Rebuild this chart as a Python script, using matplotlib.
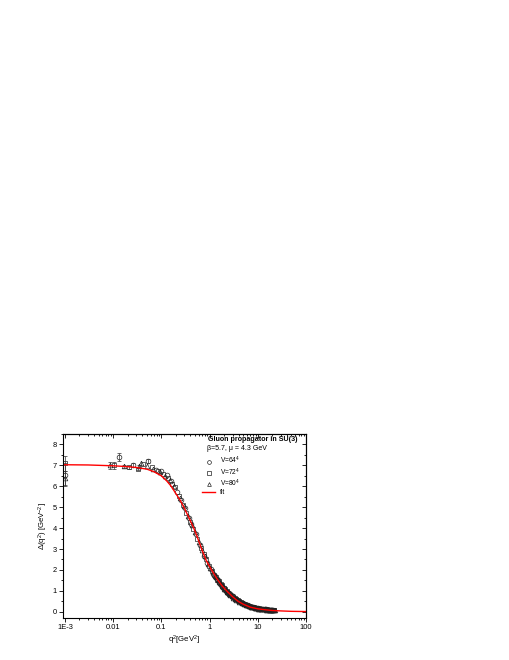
import numpy as np
import matplotlib
matplotlib.use('Agg')
import matplotlib.pyplot as plt
from matplotlib.ticker import LogLocator, MultipleLocator, NullFormatter

plt.rcParams['font.family'] = ['Liberation Sans', 'DejaVu Sans']
plt.rcParams['mathtext.fontset'] = 'custom'
plt.rcParams['mathtext.rm'] = 'Liberation Sans'
plt.rcParams['mathtext.it'] = 'Liberation Sans:italic'

# V=64^4 (circles)
q2_64 = [0.001, 0.013, 0.026, 0.052, 0.078, 0.1, 0.13, 0.16, 0.21, 0.26,
         0.31, 0.37, 0.42, 0.52, 0.63, 0.78, 0.9, 1.05, 1.2, 1.3,
         1.4, 1.5, 1.6, 1.75, 1.85, 2.0, 2.1, 2.2, 2.4, 2.5,
         2.6, 2.8, 3.0, 3.2, 3.4, 3.5, 3.7, 3.9, 4.0, 4.3,
         4.6, 4.9, 5.0, 5.3, 5.6, 5.8, 6.2, 6.4, 6.7, 7.0,
         7.2, 7.8, 8.0, 8.4, 8.8, 9.0, 9.6, 10, 10.5, 11,
         11.2, 12, 12.5, 13, 13.8, 14, 15, 16, 17, 17.5,
         18, 18.5, 19, 19.8, 20, 21]
d_64 = [6.55, 7.4, 7.0, 7.2, 6.8, 6.75, 6.55, 6.25, 5.75, 5.35,
        4.95, 4.5, 4.2, 3.7, 3.2, 2.65, 2.35, 2.05, 1.8, 1.7,
        1.58, 1.5, 1.4, 1.3, 1.22, 1.12, 1.06, 1.0, 0.92, 0.88,
        0.85, 0.78, 0.73, 0.67, 0.62, 0.6, 0.56, 0.53, 0.51, 0.47,
        0.43, 0.4, 0.39, 0.36, 0.34, 0.32, 0.3, 0.28, 0.27, 0.25,
        0.24, 0.22, 0.21, 0.2, 0.19, 0.185, 0.17, 0.165, 0.155, 0.15,
        0.145, 0.135, 0.13, 0.125, 0.12, 0.115, 0.11, 0.1, 0.095, 0.093,
        0.09, 0.088, 0.086, 0.083, 0.082, 0.08]
err_64 = [0.55, 0.2, 0.1, 0.1]

# V=72^4 (squares)
q2_72 = [0.001, 0.0105, 0.021, 0.032, 0.042, 0.063, 0.085, 0.11, 0.14, 0.17,
         0.19, 0.23, 0.28, 0.33, 0.4, 0.46, 0.55, 0.66, 0.75, 0.85,
         0.97, 1.1, 1.25, 1.35, 1.45, 1.55, 1.7, 1.8, 1.95, 2.05,
         2.25, 2.35, 2.45, 2.7, 2.9, 3.1, 3.3, 3.6, 3.8, 4.1,
         4.4, 4.7, 5.1, 5.4, 5.7, 6.0, 6.5, 6.9, 7.4, 7.9,
         8.5, 9.2, 9.8, 10.4, 11.5, 12.2, 13.2, 14.5, 15.5, 16.5,
         17.8, 18.8, 20.2, 21.3, 22]
d_72 = [7.1, 7.0, 6.9, 6.85, 7.05, 6.9, 6.75, 6.6, 6.4, 6.1,
        5.95, 5.55, 5.1, 4.7, 4.3, 3.95, 3.5, 3.05, 2.75, 2.5,
        2.2, 1.95, 1.75, 1.65, 1.54, 1.46, 1.33, 1.26, 1.15, 1.1,
        0.99, 0.95, 0.91, 0.82, 0.76, 0.7, 0.65, 0.59, 0.55, 0.5,
        0.46, 0.43, 0.39, 0.36, 0.34, 0.32, 0.29, 0.27, 0.25, 0.23,
        0.21, 0.19, 0.175, 0.165, 0.15, 0.14, 0.13, 0.12, 0.11, 0.105,
        0.1, 0.095, 0.09, 0.085, 0.082]
err_72 = [0.35, 0.15, 0.08, 0.08]

# V=80^4 (triangles)
q2_80 = [0.001, 0.0085, 0.017, 0.034, 0.038, 0.05, 0.068, 0.092, 0.12, 0.15,
         0.18, 0.24, 0.29, 0.35, 0.43, 0.5, 0.6, 0.7, 0.8, 0.92,
         1.0, 1.15, 1.28, 1.35, 1.48, 1.55, 1.65, 1.8, 1.9, 2.0,
         2.15, 2.3, 2.55, 2.7, 2.95, 3.1, 3.35, 3.6, 3.85, 4.1,
         4.5, 4.8, 5.2, 5.6, 6.0, 6.5, 7.1, 7.5, 8.2, 8.7,
         9.4, 10, 10.8, 11.6, 12.6, 13.5, 14.6, 15.5, 16.8, 17.5,
         18.4, 19.5, 20.6, 21.5, 22.5]
d_80 = [6.4, 7.0, 6.95, 6.95, 7.1, 6.95, 6.85, 6.7, 6.5, 6.3,
        6.0, 5.45, 5.05, 4.6, 4.15, 3.8, 3.35, 2.95, 2.65, 2.3,
        2.1, 1.88, 1.72, 1.64, 1.5, 1.44, 1.36, 1.23, 1.18, 1.1,
        1.03, 0.95, 0.86, 0.8, 0.74, 0.68, 0.63, 0.57, 0.54, 0.48,
        0.45, 0.4, 0.37, 0.33, 0.31, 0.27, 0.25, 0.22, 0.21, 0.18,
        0.17, 0.15, 0.145, 0.13, 0.125, 0.11, 0.105, 0.1, 0.095, 0.09,
        0.088, 0.08, 0.08, 0.075, 0.075]
err_80 = [0.35, 0.15, 0.08, 0.08]

# fit curve
fit_q2 = [0.00091, 0.001, 0.003, 0.01, 0.02, 0.03, 0.05, 0.07, 0.1, 0.13, 0.16, 0.2,
          0.25, 0.3, 0.4, 0.47, 0.55, 0.685, 0.85, 1.1, 1.4, 1.8, 2.26, 3.0, 3.9,
          5, 7, 10, 15, 20, 30, 50, 100]
fit_d = [7.03, 7.03, 7.02, 6.98, 6.94, 6.9, 6.82, 6.7, 6.5, 6.25, 6.0, 5.65,
         5.3, 4.95, 4.35, 4.0, 3.6, 3.0, 2.45, 2.0, 1.6, 1.25, 1.0, 0.72, 0.5,
         0.36, 0.22, 0.14, 0.09, 0.06, 0.04, 0.02, 0.01]

fig = plt.figure(figsize=(5.1, 6.6), dpi=100)
ax = fig.add_axes([0.1235, 0.0636, 0.4765, 0.2788])

mk = dict(ls='none', mfc='none', mec='#222222', mew=0.5, ms=3.4)
ax.plot(q2_64, d_64, marker='o', label='V=64$^4$', **mk)
ax.plot(q2_72, d_72, marker='s', label='V=72$^4$', **mk)
ax.plot(q2_80, d_80, marker='^', label='V=80$^4$', **mk)
for q, d, e in [(q2_64, d_64, err_64), (q2_72, d_72, err_72), (q2_80, d_80, err_80)]:
    ax.errorbar(q[:len(e)], d[:len(e)], yerr=e, fmt='none', ecolor='#333333',
                elinewidth=0.5, capsize=1.5, capthick=0.5)
ax.plot(fit_q2, fit_d, color='red', lw=1.0, label='fit')

ax.set_xscale('log')
ax.set_xlim(0.00091, 100)
ax.set_ylim(-0.3, 8.5)
ax.set_xticks([0.001, 0.01, 0.1, 1, 10, 100])
ax.set_xticklabels(['1E-3', '0.01', '0.1', '1', '10', '100'])
ax.xaxis.set_minor_locator(LogLocator(base=10, subs=np.arange(2, 10), numticks=20))
ax.xaxis.set_minor_formatter(NullFormatter())
ax.yaxis.set_major_locator(MultipleLocator(1))
ax.yaxis.set_minor_locator(MultipleLocator(0.5))

for sp in ax.spines.values():
    sp.set_linewidth(0.8)
ax.tick_params(which='both', labelsize=5.4, width=0.6, pad=1.5)
ax.tick_params(which='major', length=3)
ax.tick_params(which='minor', length=1.6)

# Origin style: outward ticks on left/bottom, inward ticks on top/right
tx = ax.secondary_xaxis('top')
tx.set_xticks([0.001, 0.01, 0.1, 1, 10, 100])
tx.xaxis.set_minor_locator(LogLocator(base=10, subs=np.arange(2, 10), numticks=20))
tx.tick_params(which='both', direction='in', labeltop=False, width=0.6)
tx.tick_params(which='major', length=3)
tx.tick_params(which='minor', length=1.6)
ty = ax.secondary_yaxis('right')
ty.yaxis.set_major_locator(MultipleLocator(1))
ty.yaxis.set_minor_locator(MultipleLocator(0.5))
ty.tick_params(which='both', direction='in', labelright=False, width=0.6)
ty.tick_params(which='major', length=3)
ty.tick_params(which='minor', length=1.6)

ax.set_xlabel('q$^2$[GeV$^2$]', fontsize=5.6, labelpad=2)
ax.set_ylabel(r'$\Delta$(q$^2$) [GeV$^{-2}$]', fontsize=5.6, labelpad=2)

ax.text(0.597, 0.968, 'Gluon propagator in SU(3)', transform=ax.transAxes,
        fontsize=5.1, fontweight='bold', va='center')
ax.text(0.593, 0.92, 'β=5.7, μ = 4.3 GeV', transform=ax.transAxes,
        fontsize=5.0, va='center')
ax.legend(loc='upper left', bbox_to_anchor=(0.572, 0.885), frameon=False,
          fontsize=4.8, handlelength=2.0, handletextpad=0.7, labelspacing=0.0,
          handleheight=0.6, borderpad=0, borderaxespad=0, markerscale=0.8)

fig.savefig('out.png', dpi=100)
